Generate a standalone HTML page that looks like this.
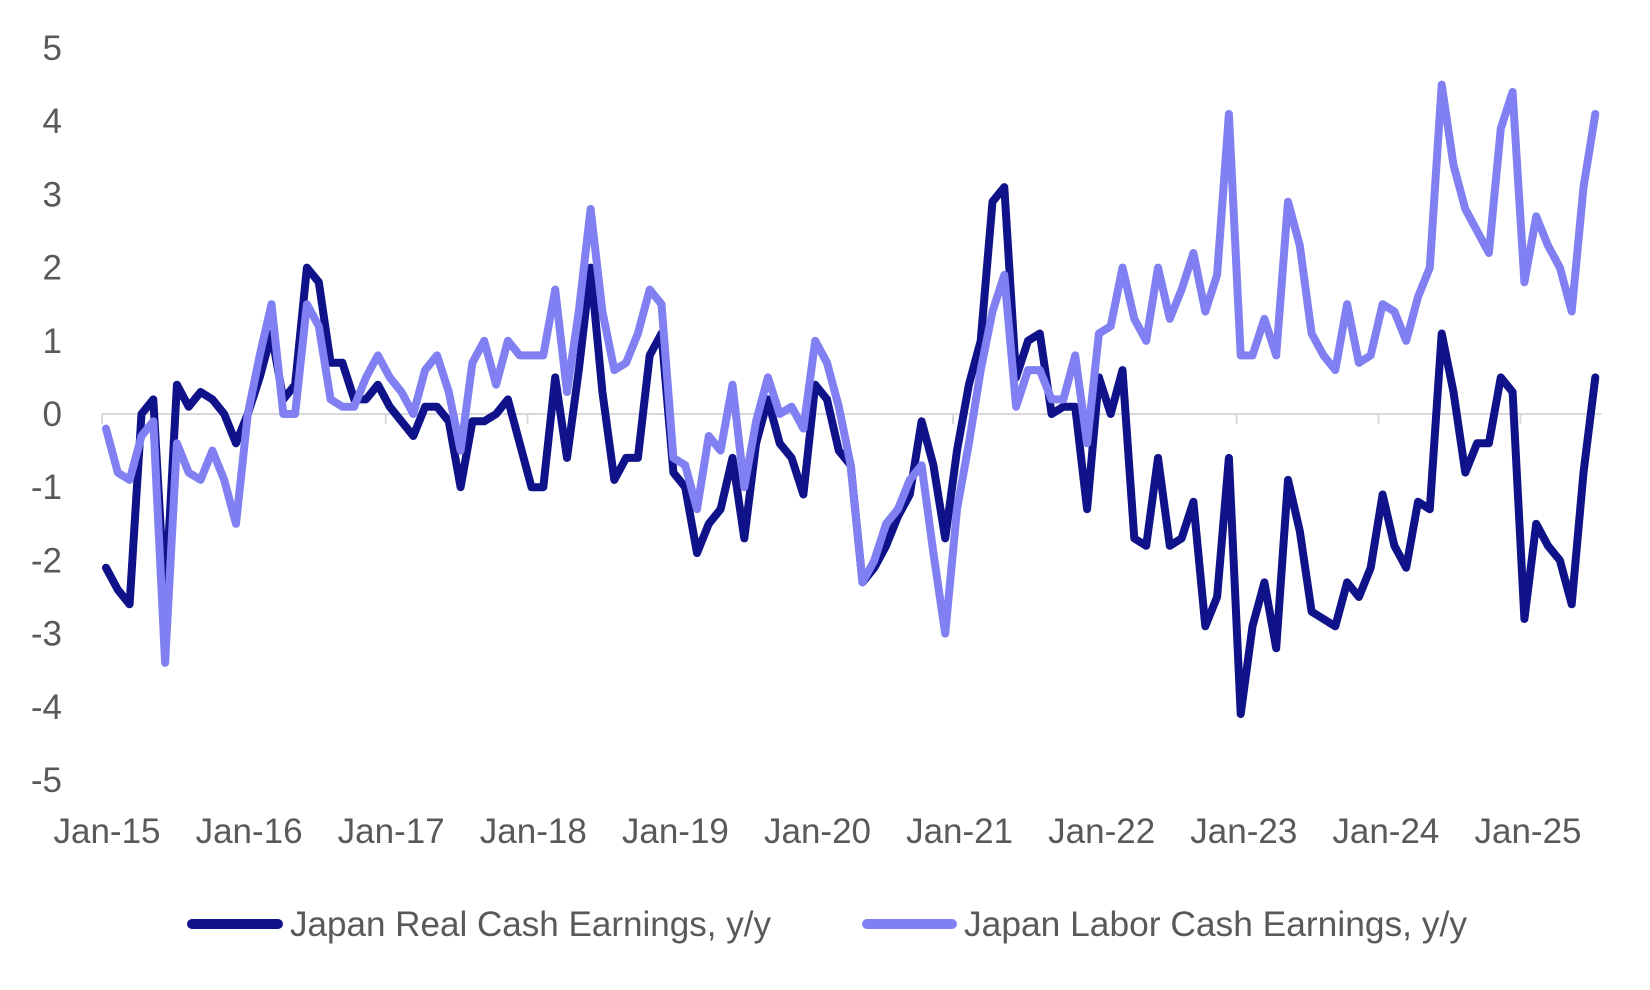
<!DOCTYPE html>
<html><head><meta charset="utf-8"><style>
html,body{margin:0;padding:0;background:#fff;}
svg{display:block;font-family:"Liberation Sans",sans-serif;}
</style></head><body>
<svg id="chart" width="1650" height="990" viewBox="0 0 1650 990">
<g id="grid"></g><g id="series"></g><g id="labels"></g>
<g>
<g>
<line x1="192" y1="924" x2="278" y2="924" stroke="#10128A" stroke-width="10" stroke-linecap="round"/>
<text x="290" y="936" font-size="35" fill="#595959" textLength="481" lengthAdjust="spacingAndGlyphs">Japan Real Cash Earnings, y/y</text>
</g>
<g>
<line x1="867" y1="924" x2="952" y2="924" stroke="#8080F2" stroke-width="10" stroke-linecap="round"/>
<text x="964" y="936" font-size="35" fill="#595959" textLength="503" lengthAdjust="spacingAndGlyphs">Japan Labor Cash Earnings, y/y</text>
</g>
</g>
</svg>
<script>
const yTicks = [5,4,3,2,1,0,-1,-2,-3,-4,-5];
const xTickLabels = ["Jan-15","Jan-16","Jan-17","Jan-18","Jan-19","Jan-20","Jan-21","Jan-22","Jan-23","Jan-24","Jan-25"];
const realEarnings = [-2.1,-2.4,-2.6,0.0,0.2,-2.6,0.4,0.1,0.3,0.2,0.0,-0.4,
0.0,0.5,1.1,0.2,0.4,2.0,1.8,0.7,0.7,0.2,0.2,0.4,
0.1,-0.1,-0.3,0.1,0.1,-0.1,-1.0,-0.1,-0.1,0.0,0.2,-0.4,
-1.0,-1.0,0.5,-0.6,0.6,2.0,0.3,-0.9,-0.6,-0.6,0.8,1.1,
-0.8,-1.0,-1.9,-1.5,-1.3,-0.6,-1.7,-0.4,0.2,-0.4,-0.6,-1.1,
0.4,0.2,-0.5,-0.7,-2.3,-2.1,-1.8,-1.4,-1.1,-0.1,-0.7,-1.7,
-0.5,0.4,1.0,2.9,3.1,0.5,1.0,1.1,0.0,0.1,0.1,-1.3,
0.5,0.0,0.6,-1.7,-1.8,-0.6,-1.8,-1.7,-1.2,-2.9,-2.5,-0.6,
-4.1,-2.9,-2.3,-3.2,-0.9,-1.6,-2.7,-2.8,-2.9,-2.3,-2.5,-2.1,
-1.1,-1.8,-2.1,-1.2,-1.3,1.1,0.3,-0.8,-0.4,-0.4,0.5,0.3,
-2.8,-1.5,-1.8,-2.0,-2.6,-0.8,0.5];
const laborEarnings = [-0.2,-0.8,-0.9,-0.3,-0.1,-3.4,-0.4,-0.8,-0.9,-0.5,-0.9,-1.5,
0.0,0.8,1.5,0.0,0.0,1.5,1.2,0.2,0.1,0.1,0.5,0.8,
0.5,0.3,0.0,0.6,0.8,0.3,-0.5,0.7,1.0,0.4,1.0,0.8,
0.8,0.8,1.7,0.3,1.4,2.8,1.4,0.6,0.7,1.1,1.7,1.5,
-0.6,-0.7,-1.3,-0.3,-0.5,0.4,-1.0,-0.1,0.5,0.0,0.1,-0.2,
1.0,0.7,0.1,-0.7,-2.3,-2.0,-1.5,-1.3,-0.9,-0.7,-1.9,-3.0,
-1.3,-0.4,0.6,1.4,1.9,0.1,0.6,0.6,0.2,0.2,0.8,-0.4,
1.1,1.2,2.0,1.3,1.0,2.0,1.3,1.7,2.2,1.4,1.9,4.1,
0.8,0.8,1.3,0.8,2.9,2.3,1.1,0.8,0.6,1.5,0.7,0.8,
1.5,1.4,1.0,1.6,2.0,4.5,3.4,2.8,2.5,2.2,3.9,4.4,
1.8,2.7,2.3,2.0,1.4,3.1,4.1];

const X0 = 106, MONTH = 11.82, Y0 = 414, UNIT = 73.2;
const xs = i => X0 + i*MONTH;
const ys = v => Y0 - v*UNIT;
const NS = "http://www.w3.org/2000/svg";
const grid = document.getElementById('grid');
const labels = document.getElementById('labels');
const series = document.getElementById('series');

const axis = document.createElementNS(NS,'line');
axis.setAttribute('x1', X0-4); axis.setAttribute('x2', xs(realEarnings.length-1)+6);
axis.setAttribute('y1', ys(0)); axis.setAttribute('y2', ys(0));
axis.setAttribute('stroke','#d9d9d9'); axis.setAttribute('stroke-width','2');


grid.appendChild(axis);

xTickLabels.forEach((lab,k)=>{
  const x = xs(k*12);
  const t = document.createElementNS(NS,'line');
  t.setAttribute('x1',x-4); t.setAttribute('x2',x-4);
  t.setAttribute('y1',ys(0)); t.setAttribute('y2',ys(0)+10);
  t.setAttribute('stroke','#d9d9d9'); t.setAttribute('stroke-width','2');
  
  
  grid.appendChild(t);
  const tx = document.createElementNS(NS,'text');
  tx.setAttribute('x', 107 + k*142.1); tx.setAttribute('y', 843);
  tx.setAttribute('text-anchor','middle'); tx.setAttribute('font-size','35');
  tx.setAttribute('fill','#595959');
  tx.textContent = lab;
  
  
  labels.appendChild(tx);
});

yTicks.forEach(v=>{
  const tx = document.createElementNS(NS,'text');
  tx.setAttribute('x', 62); tx.setAttribute('y', ys(v)+12);
  tx.setAttribute('text-anchor','end'); tx.setAttribute('font-size','35');
  tx.setAttribute('fill','#595959');
  tx.textContent = String(v);
  
  
  labels.appendChild(tx);
});

function drawLine(data, color, name){
  const p = document.createElementNS(NS,'polyline');
  p.setAttribute('points', data.map((v,i)=>xs(i).toFixed(1)+','+ys(v).toFixed(1)).join(' '));
  p.setAttribute('fill','none'); p.setAttribute('stroke',color);
  p.setAttribute('stroke-width','8'); p.setAttribute('stroke-linejoin','round');
  p.setAttribute('stroke-linecap','round');
  
  
  series.appendChild(p);
}
drawLine(realEarnings,'#10128A','real-earnings-line');
drawLine(laborEarnings,'#8080F2','labor-earnings-line');
</script>
</body></html>
